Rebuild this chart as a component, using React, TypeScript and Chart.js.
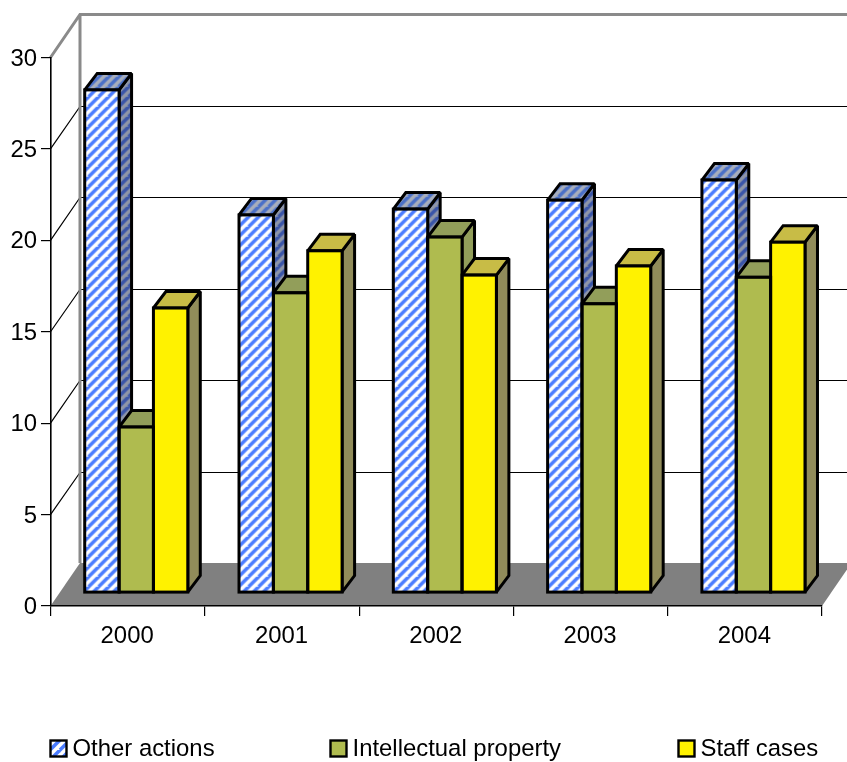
import React, { useEffect, useRef } from "react";
import { Chart, registerables } from "chart.js";

Chart.register(...registerables);

const categories = ["2000", "2001", "2002", "2003", "2004"];
const otherActions = [27.5, 20.66, 20.98, 21.47, 22.57];
const intellectualProperty = [9.06, 16.4, 19.45, 15.8, 17.25];
const staffCases = [15.57, 18.7, 17.37, 17.87, 19.17];
const yTicks = [0, 5, 10, 15, 20, 25, 30];
const seriesNames = ["Other actions", "Intellectual property", "Staff cases"];

const FONT = '"Liberation Sans", Arial, sans-serif';
const FONT_SIZE = 23.9;
const WALL_DX = 29.5;
const WALL_DY = 43;
const BAR_SHIFT_X = 8.6;
const BAR_SHIFT_Y = 13.3;
const DEPTH_X = 12.5;
const DEPTH_Y = 16.5;
const OUTLINE = 3;
const LEGEND_X = [50.5, 330.5, 678.5];
const LEGEND_TEXT_GAP = 22;
const LEGEND_Y = 740.5;
const LEGEND_BOX = 16;

function hatch(stripe: string, bg: string): CanvasPattern {
  const size = 10;
  const c = document.createElement("canvas");
  c.width = size;
  c.height = size;
  const x = c.getContext("2d")!;
  x.fillStyle = bg;
  x.fillRect(0, 0, size, size);
  x.strokeStyle = stripe;
  x.lineWidth = 3.5;
  for (let o = -size; o <= size * 2; o += size) {
    x.beginPath();
    x.moveTo(o - size, size);
    x.lineTo(o + size, -size);
    x.stroke();
  }
  return x.createPattern(c, "repeat")!;
}

function poly(ctx: CanvasRenderingContext2D, pts: number[][], fill: any, line: number) {
  ctx.beginPath();
  pts.forEach((p, i) => (i ? ctx.lineTo(p[0], p[1]) : ctx.moveTo(p[0], p[1])));
  ctx.closePath();
  ctx.fillStyle = fill;
  ctx.fill();
  if (line > 0) {
    ctx.lineWidth = line;
    ctx.strokeStyle = "#000";
    ctx.lineJoin = "miter";
    ctx.miterLimit = 1.6;
    ctx.stroke();
  }
}

export default function App() {
  const ref = useRef<HTMLCanvasElement>(null);
  useEffect(() => {
    const fronts = [hatch("#4a7cff", "#ffffff"), "#afbb4f", "#fff200"];
    const tops = [hatch("#4a70c8", "#a8aebc"), "#929e5a", "#c8bc46"];
    const sides = [hatch("#3a55a8", "#8f96a8"), "#929e5a", "#918c5a"];

    const walls = {
      id: "walls",
      beforeDraw(chart: any) {
        const { ctx, scales } = chart;
        const y = scales.y;
        const a = chart.chartArea;
        const bx = a.left + WALL_DX;
        ctx.save();
        // floor
        poly(
          ctx,
          [
            [a.left, a.bottom],
            [bx, a.bottom - WALL_DY],
            [a.right + WALL_DX, a.bottom - WALL_DY],
            [a.right, a.bottom],
          ],
          "#808080",
          0
        );
        // gridlines on the left and back walls
        ctx.strokeStyle = "#000";
        ctx.lineWidth = 1.2;
        yTicks.slice(1, -1).forEach((t) => {
          const p = y.getPixelForValue(t);
          const back = Math.round(p - WALL_DY) + 0.5;
          ctx.beginPath();
          ctx.moveTo(a.left, p);
          ctx.lineTo(bx, back);
          ctx.lineTo(a.right + WALL_DX, back);
          ctx.stroke();
        });
        // grey wall frame
        const top = y.getPixelForValue(30);
        ctx.strokeStyle = "#8a8a8a";
        ctx.lineWidth = 3;
        ctx.beginPath();
        ctx.moveTo(a.left, top);
        ctx.lineTo(bx, top - WALL_DY);
        ctx.lineTo(a.right + WALL_DX, top - WALL_DY);
        ctx.moveTo(bx, top - WALL_DY);
        ctx.lineTo(bx, a.bottom - WALL_DY);
        ctx.stroke();
        ctx.restore();
      },
      beforeDatasetsDraw(chart: any) {
        const { ctx } = chart;
        ctx.save();
        ctx.translate(BAR_SHIFT_X, -BAR_SHIFT_Y);
        for (let c = 0; c < categories.length; c++) {
          for (let d = 0; d < chart.data.datasets.length; d++) {
            const bar = chart.getDatasetMeta(d).data[c];
            const l = bar.x - bar.width / 2;
            const r = bar.x + bar.width / 2;
            const t = bar.y;
            const b = bar.base;
            poly(ctx, [[r, t], [r + DEPTH_X, t - DEPTH_Y], [r + DEPTH_X, b - DEPTH_Y], [r, b]], sides[d], OUTLINE);
            poly(ctx, [[l, t], [l + DEPTH_X, t - DEPTH_Y], [r + DEPTH_X, t - DEPTH_Y], [r, t]], tops[d], OUTLINE);
          }
        }
      },
      afterDatasetsDraw(chart: any) {
        const { ctx } = chart;
        ctx.lineWidth = OUTLINE;
        ctx.strokeStyle = "#000";
        for (let d = 0; d < chart.data.datasets.length; d++) {
          chart.getDatasetMeta(d).data.forEach((bar: any) => {
            ctx.strokeRect(bar.x - bar.width / 2, bar.y, bar.width, bar.base - bar.y);
          });
        }
        ctx.restore();
      },
      afterDraw(chart: any) {
        const { ctx } = chart;
        ctx.save();
        ctx.font = `${FONT_SIZE}px ${FONT}`;
        ctx.textBaseline = "alphabetic";
        chart.data.datasets.forEach((ds: any, i: number) => {
          const x = LEGEND_X[i];
          ctx.fillStyle = ds.backgroundColor;
          ctx.fillRect(x, LEGEND_Y, LEGEND_BOX, LEGEND_BOX);
          ctx.lineWidth = 2.4;
          ctx.strokeStyle = "#000";
          ctx.strokeRect(x, LEGEND_Y, LEGEND_BOX, LEGEND_BOX);
          ctx.fillStyle = "#000";
          ctx.fillText(ds.label, x + LEGEND_TEXT_GAP, 756);
        });
        ctx.restore();
      },
    };

    const chart = new Chart(ref.current!, {
      type: "bar",
      data: {
        labels: categories,
        datasets: [
          { label: seriesNames[0], data: otherActions, backgroundColor: fronts[0] as any },
          { label: seriesNames[1], data: intellectualProperty, backgroundColor: fronts[1] as any },
          { label: seriesNames[2], data: staffCases, backgroundColor: fronts[2] as any },
        ],
      },
      plugins: [walls as any],
      options: {
        animation: false,
        responsive: false,
        devicePixelRatio: 1,
        layout: { padding: { top: 57.5, right: 25, left: 0, bottom: 0 } },
        plugins: { legend: { display: false }, tooltip: { enabled: false }, title: { display: false } },
        datasets: { bar: { categoryPercentage: 0.668, barPercentage: 1, borderWidth: 0, clip: false as any } },
        scales: {
          x: {
            offset: true,
            afterFit: (s: any) => {
              s.height = 156;
            },
            grid: { offset: true, drawOnChartArea: false, drawTicks: true, tickLength: 10, color: "#000", lineWidth: 1.2 },
            border: { display: true, color: "#000", width: 1.6 },
            ticks: {
              color: "#000",
              padding: 6,
              labelOffset: -0.5,
              maxRotation: 0,
              autoSkip: false,
              font: { family: FONT, size: FONT_SIZE },
            },
          },
          y: {
            min: 0,
            max: 30,
            afterFit: (s: any) => {
              s.width = 50.5;
            },
            grid: { drawOnChartArea: false, drawTicks: true, tickLength: 9.5, color: "#000", lineWidth: 1.2 },
            border: { display: true, color: "#000", width: 1.6 },
            afterBuildTicks: (s: any) => {
              s.ticks = yTicks.map((value) => ({ value }));
            },
            ticks: {
              color: "#000",
              padding: 4,
              labelOffset: 1.5,
              font: { family: FONT, size: FONT_SIZE },
            },
          },
        },
      },
    });
    return () => chart.destroy();
  }, []);
  return (
    <div style={{ position: "absolute", left: 0, top: 0, width: 847, height: 762, background: "#fff" }}>
      <canvas ref={ref} width={847} height={762} style={{ display: "block", width: 847, height: 762 }} />
    </div>
  );
}
